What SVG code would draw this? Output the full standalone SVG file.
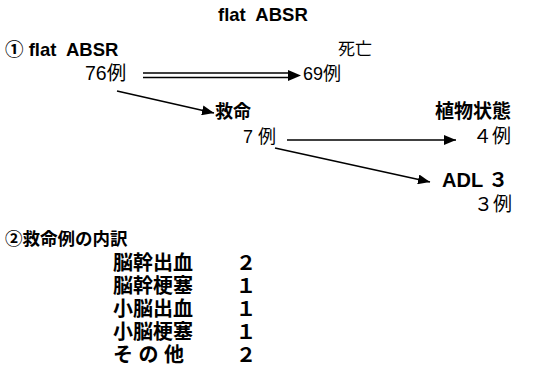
<svg xmlns="http://www.w3.org/2000/svg" width="552" height="374" viewBox="0 0 552 374">
<style>
text{font-family:"Liberation Sans","Noto Sans CJK JP",sans-serif;fill:#000;}
.b{font-weight:bold;font-size:18.5px;}
.n{font-size:18px;}
.c{font-weight:bold;font-size:19px;}
.l{font-weight:bold;font-size:20px;}
.ln{stroke:#000;stroke-width:1.5;fill:none;}
</style>
<defs>
<marker id="ah" markerWidth="12" markerHeight="10" refX="12" refY="5" orient="auto" markerUnits="userSpaceOnUse">
<path d="M0,0 L12,5 L0,10 Z" fill="#000"/>
</marker>
</defs>
<rect width="552" height="374" fill="#fff"/>
<g id="title"><text class="b" x="218" y="21" xml:space="preserve">flat  ABSR</text></g>
<g id="start">
<text class="b" x="5" y="56" xml:space="preserve">① flat  ABSR</text>
<text class="n" x="85" y="80" style="font-size:19.5px">76例</text>
</g>
<g id="death">
<text class="n" x="338" y="55" style="font-size:17px">死亡</text>
<text class="n" x="303" y="80">69例</text>
</g>
<g id="saved">
<text class="c" x="215" y="118" style="font-size:18px">救命</text>
<text class="n" x="243" y="143">7 例</text>
</g>
<g id="vegetative">
<text class="c" x="435" y="118">植物状態</text>
<text class="n" x="473" y="143" style="font-size:19px">４例</text>
</g>
<g id="adl">
<text class="l" x="442" y="187" xml:space="preserve">ADL ３</text>
<text class="n" x="474" y="211" style="font-size:19px">３例</text>
</g>
<g id="breakdown">
<text class="c" x="5" y="245" style="font-size:17.5px">②救命例の内訳</text>
<text class="l" x="113" y="270">脳幹出血</text><text class="l" x="236" y="270">２</text>
<text class="l" x="113" y="293">脳幹梗塞</text><text class="l" x="236" y="293">１</text>
<text class="l" x="113" y="316">小脳出血</text><text class="l" x="236" y="316">１</text>
<text class="l" x="113" y="339">小脳梗塞</text><text class="l" x="236" y="339">１</text>
<text class="l" x="113" y="362" xml:space="preserve">そ の 他</text><text class="l" x="236" y="362">２</text>
</g>
<g id="connectors">
<line class="ln" x1="143" y1="73" x2="292" y2="73" stroke-width="1.2"/>
<line class="ln" x1="143" y1="77.5" x2="292" y2="77.5" stroke-width="1.2"/>
<path d="M288,70 L301,75.5 L288,81 Z" fill="#000"/>
<line class="ln" x1="117" y1="91" x2="214" y2="113" marker-end="url(#ah)"/>
<line class="ln" x1="287" y1="140" x2="456" y2="140" marker-end="url(#ah)"/>
<line class="ln" x1="275" y1="148" x2="430" y2="182" marker-end="url(#ah)"/>
</g>
</svg>
